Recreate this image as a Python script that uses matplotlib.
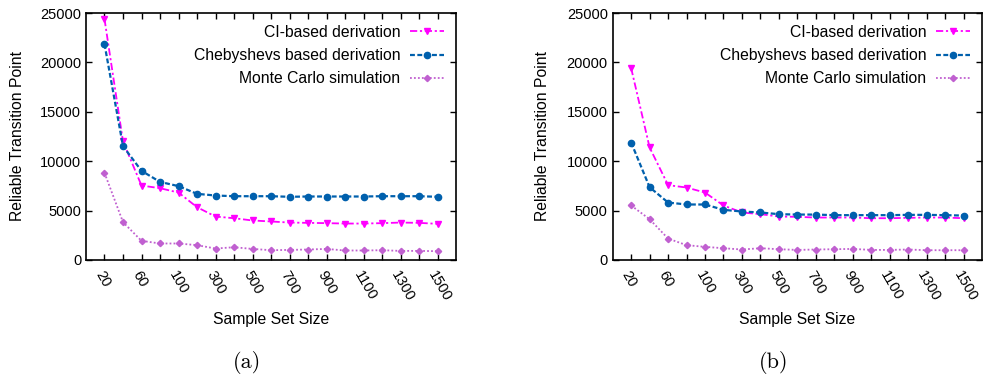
import numpy as np
import matplotlib
matplotlib.use("Agg")
import matplotlib.pyplot as plt

plt.rcParams['font.family'] = ['Liberation Sans', 'DejaVu Sans']

# ---------------------------------------------------------------------
# Data
# ---------------------------------------------------------------------
sample_sizes = [20, 40, 60, 80, 100, 200, 300, 400, 500, 600, 700,
                800, 900, 1000, 1100, 1200, 1300, 1400, 1500]

ci_a = [24400, 12000, 7530, 7260, 6820, 5340, 4390, 4220, 3990, 3890,
        3780, 3750, 3720, 3680, 3680, 3720, 3780, 3750, 3650]
cheb_a = [21860, 11520, 9020, 7900, 7470, 6690, 6520, 6450, 6450, 6450,
          6390, 6420, 6420, 6420, 6420, 6450, 6450, 6450, 6390]
mc_a = [8820, 3820, 1930, 1660, 1660, 1490, 1150, 1280, 1110, 980,
        1010, 1050, 1110, 950, 950, 980, 910, 910, 880]

ci_b = [19430, 11390, 7570, 7330, 6820, 5510, 4800, 4630, 4390, 4360,
        4290, 4290, 4290, 4220, 4220, 4260, 4290, 4290, 4220]
cheb_b = [11890, 7360, 5810, 5610, 5610, 5070, 4900, 4800, 4630, 4590,
          4590, 4530, 4530, 4530, 4530, 4560, 4560, 4530, 4490]
mc_b = [5510, 4120, 2160, 1490, 1320, 1180, 1050, 1180, 1080, 1010,
        1050, 1080, 1110, 1010, 1010, 1050, 980, 980, 980]

labels = ["CI-based derivation", "Chebyshevs based derivation",
          "Monte Carlo simulation"]


def draw_panel(ax, ci, cheb, mc, ylab_x):
    x = np.arange(len(sample_sizes))
    ax.plot(x, ci, color="#ff00ff", ls=(0, (4, 1.5, 1.2, 1.5)), lw=1.3,
            marker="v", ms=4.5, label=labels[0])
    ax.plot(x, cheb, color="#0060ad", ls=(0, (2.2, 1.1)), lw=1.6,
            marker="o", ms=4.5, label=labels[1])
    ax.plot(x, mc, color="#c060d0", ls=(0, (1, 1.2)), lw=1.3,
            marker="D", ms=3.2, label=labels[2])

    ax.set_xlim(-1, len(sample_sizes))
    ax.set_ylim(0, 25000)
    ax.set_yticks(np.arange(0, 25001, 5000))
    ax.set_xticks(x)
    ax.set_xticklabels([str(s) if i % 2 == 0 else ""
                        for i, s in enumerate(sample_sizes)],
                       rotation=-60, ha="left", va="top",
                       rotation_mode="anchor")
    ax.tick_params(direction="in", length=4, width=1, top=True, right=True,
                   labelsize=10.5, colors="black")
    ax.tick_params(axis="x", pad=6)
    for sp in ax.spines.values():
        sp.set_linewidth(1.2)
    ax.set_ylabel("Reliable Transition Point", fontsize=11.3)
    ax.yaxis.set_label_coords(ylab_x, 0.5)
    ax.set_xlabel("Sample Set Size", fontsize=11.3, labelpad=6)
    ax.legend(loc="upper right", frameon=False, markerfirst=False,
              fontsize=11.3, handlelength=2.2, labelspacing=0.52,
              borderaxespad=0.35, handletextpad=0.6)


fig = plt.figure(figsize=(9.85, 3.85), dpi=100)
ax_a = fig.add_axes([0.0873, 0.325, 0.3757, 0.641])
ax_b = fig.add_axes([0.622, 0.325, 0.375, 0.641])

draw_panel(ax_a, ci_a, cheb_a, mc_a, -0.165)
draw_panel(ax_b, ci_b, cheb_b, mc_b, -0.17)

fig.text(0.251, 0.058, "(a)", fontfamily="cmr10", fontsize=16,
         ha="center", va="center")
fig.text(0.785, 0.058, "(b)", fontfamily="cmr10", fontsize=16,
         ha="center", va="center")

fig.savefig("out.png", dpi=100)
